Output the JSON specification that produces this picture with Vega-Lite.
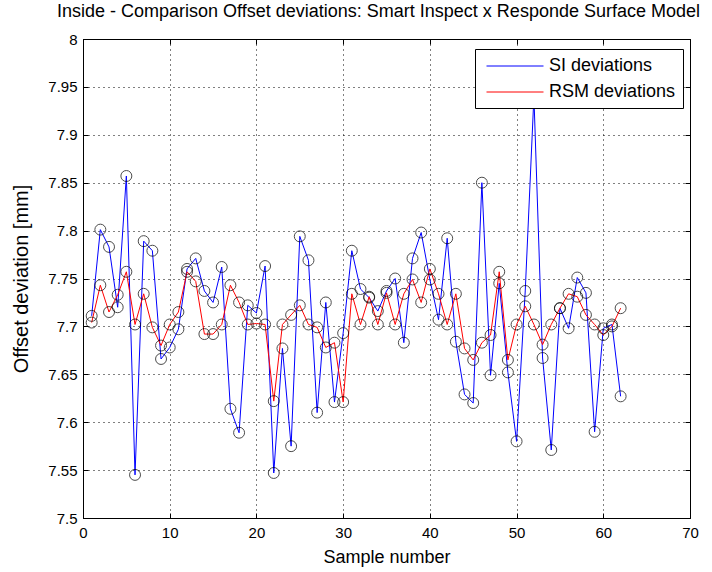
{
  "$schema": "https://vega.github.io/schema/vega-lite/v6.json",
  "autosize": "none",
  "width": 607,
  "height": 479,
  "padding": {"left": 83, "top": 39, "right": 22, "bottom": 54},
  "background": "white",
  "config": {
    "font": "Liberation Sans",
    "view": {"stroke": "black", "strokeWidth": 1},
    "axis": {"labelFont": "Liberation Sans", "titleFont": "Liberation Sans", "labelFontSize": 15, "titleFontSize": 18, "labelColor": "#000", "titleColor": "#000", "titleFontWeight": "normal", "domainColor": "#000", "tickColor": "#000"}
  },
  "title": {"text": "Inside - Comparison Offset deviations: Smart Inspect x Responde Surface Model", "fontSize": 18, "fontWeight": "normal", "font": "Liberation Sans", "color": "#000", "offset": 11, "dx": -8},
  "datasets": {
    "d": [
      {"sample": 1, "series": "SI deviations", "value": 7.711}, {"sample": 1, "series": "RSM deviations", "value": 7.704},
      {"sample": 2, "series": "SI deviations", "value": 7.801}, {"sample": 2, "series": "RSM deviations", "value": 7.743},
      {"sample": 3, "series": "SI deviations", "value": 7.783}, {"sample": 3, "series": "RSM deviations", "value": 7.715},
      {"sample": 4, "series": "SI deviations", "value": 7.72}, {"sample": 4, "series": "RSM deviations", "value": 7.733},
      {"sample": 5, "series": "SI deviations", "value": 7.857}, {"sample": 5, "series": "RSM deviations", "value": 7.757},
      {"sample": 6, "series": "SI deviations", "value": 7.545}, {"sample": 6, "series": "RSM deviations", "value": 7.702},
      {"sample": 7, "series": "SI deviations", "value": 7.789}, {"sample": 7, "series": "RSM deviations", "value": 7.734},
      {"sample": 8, "series": "SI deviations", "value": 7.779}, {"sample": 8, "series": "RSM deviations", "value": 7.699},
      {"sample": 9, "series": "SI deviations", "value": 7.666}, {"sample": 9, "series": "RSM deviations", "value": 7.68},
      {"sample": 10, "series": "SI deviations", "value": 7.678}, {"sample": 10, "series": "RSM deviations", "value": 7.702},
      {"sample": 11, "series": "SI deviations", "value": 7.697}, {"sample": 11, "series": "RSM deviations", "value": 7.715},
      {"sample": 12, "series": "SI deviations", "value": 7.76}, {"sample": 12, "series": "RSM deviations", "value": 7.757},
      {"sample": 13, "series": "SI deviations", "value": 7.771}, {"sample": 13, "series": "RSM deviations", "value": 7.747},
      {"sample": 14, "series": "SI deviations", "value": 7.737}, {"sample": 14, "series": "RSM deviations", "value": 7.692},
      {"sample": 15, "series": "SI deviations", "value": 7.725}, {"sample": 15, "series": "RSM deviations", "value": 7.692},
      {"sample": 16, "series": "SI deviations", "value": 7.762}, {"sample": 16, "series": "RSM deviations", "value": 7.702},
      {"sample": 17, "series": "SI deviations", "value": 7.614}, {"sample": 17, "series": "RSM deviations", "value": 7.743},
      {"sample": 18, "series": "SI deviations", "value": 7.589}, {"sample": 18, "series": "RSM deviations", "value": 7.725},
      {"sample": 19, "series": "SI deviations", "value": 7.722}, {"sample": 19, "series": "RSM deviations", "value": 7.702},
      {"sample": 20, "series": "SI deviations", "value": 7.714}, {"sample": 20, "series": "RSM deviations", "value": 7.703},
      {"sample": 21, "series": "SI deviations", "value": 7.763}, {"sample": 21, "series": "RSM deviations", "value": 7.702},
      {"sample": 22, "series": "SI deviations", "value": 7.547}, {"sample": 22, "series": "RSM deviations", "value": 7.622},
      {"sample": 23, "series": "SI deviations", "value": 7.677}, {"sample": 23, "series": "RSM deviations", "value": 7.702},
      {"sample": 24, "series": "SI deviations", "value": 7.575}, {"sample": 24, "series": "RSM deviations", "value": 7.712},
      {"sample": 25, "series": "SI deviations", "value": 7.794}, {"sample": 25, "series": "RSM deviations", "value": 7.722},
      {"sample": 26, "series": "SI deviations", "value": 7.769}, {"sample": 26, "series": "RSM deviations", "value": 7.702},
      {"sample": 27, "series": "SI deviations", "value": 7.61}, {"sample": 27, "series": "RSM deviations", "value": 7.699},
      {"sample": 28, "series": "SI deviations", "value": 7.725}, {"sample": 28, "series": "RSM deviations", "value": 7.678},
      {"sample": 29, "series": "SI deviations", "value": 7.621}, {"sample": 29, "series": "RSM deviations", "value": 7.683},
      {"sample": 30, "series": "SI deviations", "value": 7.693}, {"sample": 30, "series": "RSM deviations", "value": 7.621},
      {"sample": 31, "series": "SI deviations", "value": 7.779}, {"sample": 31, "series": "RSM deviations", "value": 7.734},
      {"sample": 32, "series": "SI deviations", "value": 7.739}, {"sample": 32, "series": "RSM deviations", "value": 7.702},
      {"sample": 33, "series": "SI deviations", "value": 7.73}, {"sample": 33, "series": "RSM deviations", "value": 7.731},
      {"sample": 34, "series": "SI deviations", "value": 7.716}, {"sample": 34, "series": "RSM deviations", "value": 7.702},
      {"sample": 35, "series": "SI deviations", "value": 7.737}, {"sample": 35, "series": "RSM deviations", "value": 7.735},
      {"sample": 36, "series": "SI deviations", "value": 7.75}, {"sample": 36, "series": "RSM deviations", "value": 7.702},
      {"sample": 37, "series": "SI deviations", "value": 7.683}, {"sample": 37, "series": "RSM deviations", "value": 7.734},
      {"sample": 38, "series": "SI deviations", "value": 7.771}, {"sample": 38, "series": "RSM deviations", "value": 7.749},
      {"sample": 39, "series": "SI deviations", "value": 7.798}, {"sample": 39, "series": "RSM deviations", "value": 7.725},
      {"sample": 40, "series": "SI deviations", "value": 7.749}, {"sample": 40, "series": "RSM deviations", "value": 7.76},
      {"sample": 41, "series": "SI deviations", "value": 7.707}, {"sample": 41, "series": "RSM deviations", "value": 7.734},
      {"sample": 42, "series": "SI deviations", "value": 7.792}, {"sample": 42, "series": "RSM deviations", "value": 7.702},
      {"sample": 43, "series": "SI deviations", "value": 7.684}, {"sample": 43, "series": "RSM deviations", "value": 7.734},
      {"sample": 44, "series": "SI deviations", "value": 7.629}, {"sample": 44, "series": "RSM deviations", "value": 7.677},
      {"sample": 45, "series": "SI deviations", "value": 7.62}, {"sample": 45, "series": "RSM deviations", "value": 7.665},
      {"sample": 46, "series": "SI deviations", "value": 7.85}, {"sample": 46, "series": "RSM deviations", "value": 7.683},
      {"sample": 47, "series": "SI deviations", "value": 7.649}, {"sample": 47, "series": "RSM deviations", "value": 7.691},
      {"sample": 48, "series": "SI deviations", "value": 7.745}, {"sample": 48, "series": "RSM deviations", "value": 7.757},
      {"sample": 49, "series": "SI deviations", "value": 7.652}, {"sample": 49, "series": "RSM deviations", "value": 7.665},
      {"sample": 50, "series": "SI deviations", "value": 7.58}, {"sample": 50, "series": "RSM deviations", "value": 7.702},
      {"sample": 51, "series": "SI deviations", "value": 7.737}, {"sample": 51, "series": "RSM deviations", "value": 7.721},
      {"sample": 52, "series": "SI deviations", "value": 7.94}, {"sample": 52, "series": "RSM deviations", "value": 7.702},
      {"sample": 53, "series": "SI deviations", "value": 7.667}, {"sample": 53, "series": "RSM deviations", "value": 7.681},
      {"sample": 54, "series": "SI deviations", "value": 7.571}, {"sample": 54, "series": "RSM deviations", "value": 7.702},
      {"sample": 55, "series": "SI deviations", "value": 7.719}, {"sample": 55, "series": "RSM deviations", "value": 7.719},
      {"sample": 56, "series": "SI deviations", "value": 7.698}, {"sample": 56, "series": "RSM deviations", "value": 7.734},
      {"sample": 57, "series": "SI deviations", "value": 7.751}, {"sample": 57, "series": "RSM deviations", "value": 7.731},
      {"sample": 58, "series": "SI deviations", "value": 7.735}, {"sample": 58, "series": "RSM deviations", "value": 7.712},
      {"sample": 59, "series": "SI deviations", "value": 7.59}, {"sample": 59, "series": "RSM deviations", "value": 7.702},
      {"sample": 60, "series": "SI deviations", "value": 7.698}, {"sample": 60, "series": "RSM deviations", "value": 7.691},
      {"sample": 61, "series": "SI deviations", "value": 7.702}, {"sample": 61, "series": "RSM deviations", "value": 7.7},
      {"sample": 62, "series": "SI deviations", "value": 7.627}, {"sample": 62, "series": "RSM deviations", "value": 7.719}
    ]
  },
  "data": {"name": "d"},
  "layer": [
    {
      "mark": {"type": "line", "strokeWidth": 1, "clip": true},
      "encoding": {
        "x": {"field": "sample", "type": "quantitative", "scale": {"domain": [0, 70], "nice": false}, "title": "Sample number",
          "axis": {"values": [0, 10, 20, 30, 40, 50, 60, 70], "format": "d", "grid": true, "gridColor": "#000", "gridDash": [1, 4], "gridOpacity": 1, "tickSize": -5, "labelPadding": 12, "titlePadding": 8, "labelFlush": false}},
        "y": {"field": "value", "type": "quantitative", "scale": {"domain": [7.5, 8], "nice": false, "zero": false}, "title": "Offset deviation [mm]",
          "axis": {"values": [7.5, 7.55, 7.6, 7.65, 7.7, 7.75, 7.8, 7.85, 7.9, 7.95, 8], "format": "~g", "grid": true, "gridColor": "#000", "gridDash": [1, 4], "gridOpacity": 1, "tickSize": -5, "labelPadding": 11, "titlePadding": 16, "titleFontSize": 20, "labelFlush": false}},
        "color": {"field": "series", "type": "nominal", "scale": {"domain": ["SI deviations", "RSM deviations"], "range": ["#0000ff", "#ff0000"]},
          "legend": {"title": null, "orient": "none", "legendX": 392, "legendY": 10, "symbolType": "M-3,0H3", "symbolSize": 361, "symbolStrokeWidth": 1, "symbolOffset": 23, "labelFontSize": 18, "labelFont": "Liberation Sans", "labelColor": "#000", "strokeColor": "#000", "fillColor": "#fff", "padding": 7, "rowPadding": 7, "labelOffset": 24}}
      }
    },
    {
      "mark": {"type": "point", "shape": "circle", "filled": false, "stroke": "#000", "strokeWidth": 1, "size": 120, "clip": true},
      "encoding": {
        "x": {"field": "sample", "type": "quantitative", "axis": {"orient": "top", "values": [0, 10, 20, 30, 40, 50, 60, 70], "labels": false, "title": null, "grid": false, "tickSize": -5}},
        "y": {"field": "value", "type": "quantitative", "axis": {"orient": "right", "values": [7.5, 7.55, 7.6, 7.65, 7.7, 7.75, 7.8, 7.85, 7.9, 7.95, 8], "labels": false, "title": null, "grid": false, "tickSize": -5}}
      }
    }
  ],
  "resolve": {"axis": {"x": "independent", "y": "independent"}}
}
